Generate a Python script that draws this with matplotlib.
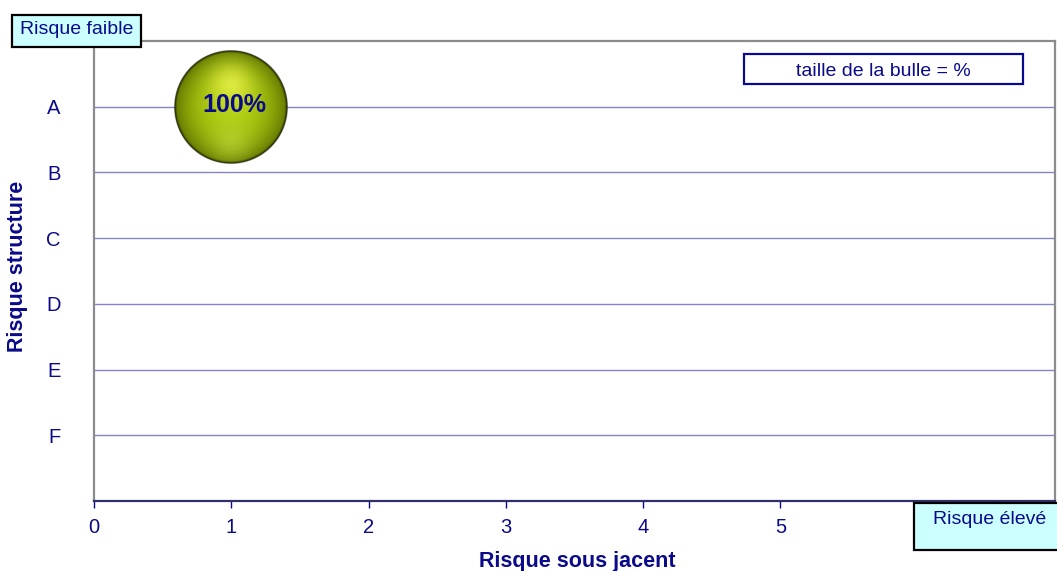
import numpy as np
import matplotlib
matplotlib.use("Agg")
import matplotlib.pyplot as plt

plt.rcParams['font.family'] = ['Liberation Sans', 'DejaVu Sans']

# donnees de la bulle
bulle_x = [1]
bulle_y = [6]
bulle_taille = [100]

# axes
x_ticks = [0, 1, 2, 3, 4, 5]
y_niveaux = [6, 5, 4, 3, 2, 1]
y_lettres = ['A', 'B', 'C', 'D', 'E', 'F']

navy = '#0a0a8a'
W, H = 1057, 571

fig = plt.figure(figsize=(W / 100, H / 100), dpi=100)
ax = fig.add_axes([94 / W, 1 - 501 / H, (1055 - 94) / W, (501 - 41) / H])
ax.set_xlim(0, 7)
ax.set_ylim(0, 7)

# lignes horizontales
for yv in y_niveaux:
    ax.axhline(yv, color='#8484c8', lw=1.0, zorder=1)

for s in ['left', 'top', 'right']:
    ax.spines[s].set_color('#8c8c8c')
    ax.spines[s].set_linewidth(1.6)
ax.spines['bottom'].set_color('#30306a')
ax.spines['bottom'].set_linewidth(1.6)

ax.set_xticks(x_ticks)
ax.set_xticklabels([str(t) for t in x_ticks])
ax.tick_params(axis='x', colors=navy, labelsize=14.5, length=5, width=1, direction='out', pad=7)
ax.set_yticks(y_niveaux)
ax.set_yticklabels(y_lettres)
ax.tick_params(axis='y', colors=navy, labelsize=14.5, length=0, pad=24)

# bulle avec degrade (sphere)
n = 300
g = np.linspace(-1, 1, n)
X, Y = np.meshgrid(g, g)
R = np.sqrt(X ** 2 + Y ** 2)
base = np.zeros((n, n, 3))
c_in = np.array([0.68, 0.80, 0.06])
c_out = np.array([0.38, 0.46, 0.0])
t = np.clip(R, 0, 1) ** 2.5
for k in range(3):
    base[..., k] = c_in[k] * (1 - t) + c_out[k] * t
hl = np.exp(-((X - 0.0) ** 2 + (Y - 0.40) ** 2) / 0.14)
hl_col = np.array([0.93, 0.96, 0.30])
low = np.exp(-((X) ** 2 + (Y + 0.62) ** 2) / 0.12) * 0.45
low_col = np.array([0.78, 0.88, 0.28])
for k in range(3):
    base[..., k] = base[..., k] * (1 - hl * 0.75) + hl_col[k] * hl * 0.75
    base[..., k] = base[..., k] * (1 - low) + low_col[k] * low
edge = np.clip((R - 0.95) / 0.05, 0, 1)
for k in range(3):
    base[..., k] = base[..., k] * (1 - edge * 0.9)
alpha = np.clip((1 - R) * n / 2, 0, 1)
img = np.dstack([np.clip(base, 0, 1), alpha])

px_x = (1055 - 94) / 7.0
px_y = (501 - 41) / 7.0
rayon = 57.0
for bx, by, bt in zip(bulle_x, bulle_y, bulle_taille):
    rx = rayon / px_x
    ry = rayon / px_y
    ax.imshow(img, extent=[bx - rx, bx + rx, by - ry, by + ry], origin='lower',
              aspect='auto', zorder=3, interpolation='bilinear')
    ax.text(bx + 0.02, by + 0.03, str(bt) + '%', color=navy, fontsize=18,
            fontweight='bold', ha='center', va='center', zorder=4)


def boite(x0, y0, x1, y1, fc, ec):
    # rectangle en pixels de la figure
    r = plt.Rectangle((x0 / W, 1 - y1 / H), (x1 - x0) / W, (y1 - y0) / H, transform=fig.transFigure,
                      fc=fc, ec=ec, lw=1.6, zorder=10, clip_on=False)
    fig.add_artist(r)


boite(12, 15, 141, 47, '#ccffff', 'black')
fig.text(77 / W, 1 - 30 / H, 'Risque faible', color=navy, fontsize=14, ha='center', va='center', zorder=11)
boite(744, 54, 1023, 84, 'white', navy)
fig.text(883 / W, 1 - 71 / H, 'taille de la bulle = %', color=navy, fontsize=14, ha='center',
         va='center', zorder=11)
boite(914, 503, 1060, 550, '#ccffff', 'black')
fig.text(990 / W, 1 - 519 / H, 'Risque élevé', color=navy, fontsize=14, ha='center', va='center', zorder=11)

# titres des axes
fig.text(18 / W, 1 - 266 / H, 'Risque structure', color=navy, fontsize=15.5, fontweight='bold',
         rotation=90, ha='center', va='center')
fig.text(577 / W, 1 - 561 / H, 'Risque sous jacent', color=navy, fontsize=15.5, fontweight='bold',
         ha='center', va='center')

fig.savefig('out.png', dpi=100)
